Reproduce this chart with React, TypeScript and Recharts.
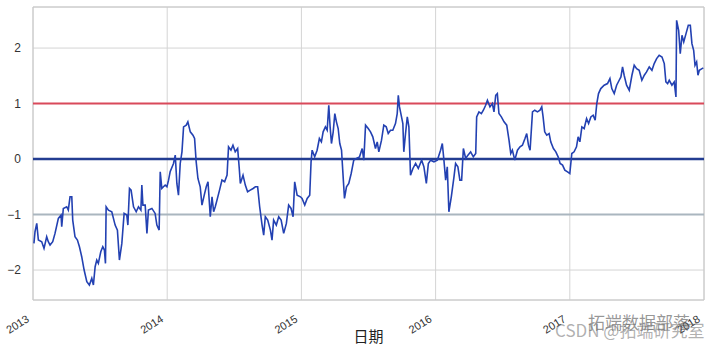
import { CartesianGrid, Label, Line, LineChart, ReferenceArea, ReferenceLine, XAxis, YAxis } from "recharts";

// years after 2013 (fractional)
const BASE_YEAR = 2013;
const T = [
  0.007, 0.015, 0.028, 0.04, 0.065, 0.082, 0.102, 0.114, 0.127, 0.147, 0.164, 0.189, 0.209, 0.214, 0.226, 0.251, 0.263,
  0.276, 0.289, 0.296, 0.313, 0.331, 0.346, 0.363, 0.381, 0.401, 0.42, 0.438, 0.45, 0.463, 0.475, 0.487, 0.505, 0.52,
  0.532, 0.54, 0.545, 0.562, 0.587, 0.612, 0.629, 0.644, 0.662, 0.679, 0.699, 0.707, 0.719, 0.731, 0.749, 0.769, 0.786,
  0.804, 0.811, 0.819, 0.836, 0.849, 0.86, 0.886, 0.91, 0.923, 0.94, 0.948, 0.96, 0.972, 0.985, 0.998, 1.01, 1.022,
  1.047, 1.06, 1.072, 1.084, 1.097, 1.11, 1.122, 1.142, 1.154, 1.172, 1.192, 1.204, 1.216, 1.229, 1.246, 1.259, 1.276,
  1.291, 1.304, 1.321, 1.334, 1.346, 1.358, 1.371, 1.39, 1.408, 1.428, 1.446, 1.457, 1.475, 1.49, 1.507, 1.525, 1.537,
  1.545, 1.565, 1.582, 1.599, 1.619, 1.64, 1.657, 1.674, 1.689, 1.707, 1.719, 1.731, 1.749, 1.769, 1.781, 1.793, 1.813,
  1.831, 1.849, 1.868, 1.888, 1.905, 1.923, 1.938, 1.95, 1.968, 1.993, 2.005, 2.025, 2.043, 2.062, 2.072, 2.08, 2.099,
  2.117, 2.134, 2.149, 2.162, 2.179, 2.192, 2.204, 2.214, 2.224, 2.237, 2.249, 2.261, 2.274, 2.286, 2.299, 2.308, 2.321,
  2.336, 2.353, 2.371, 2.39, 2.41, 2.433, 2.453, 2.465, 2.478, 2.498, 2.515, 2.532, 2.552, 2.565, 2.577, 2.597, 2.614,
  2.632, 2.647, 2.664, 2.681, 2.701, 2.714, 2.722, 2.731, 2.746, 2.756, 2.763, 2.776, 2.789, 2.801, 2.813, 2.831, 2.851,
  2.871, 2.896, 2.913, 2.931, 2.946, 2.963, 2.988, 3.013, 3.037, 3.05, 3.062, 3.075, 3.087, 3.099, 3.117, 3.137, 3.149,
  3.166, 3.181, 3.194, 3.207, 3.224, 3.241, 3.261, 3.281, 3.299, 3.306, 3.323, 3.341, 3.356, 3.373, 3.386, 3.405, 3.423,
  3.435, 3.448, 3.46, 3.472, 3.49, 3.51, 3.53, 3.547, 3.56, 3.572, 3.59, 3.61, 3.629, 3.647, 3.666, 3.679, 3.692, 3.704,
  3.722, 3.739, 3.759, 3.778, 3.791, 3.801, 3.813, 3.828, 3.846, 3.858, 3.878, 3.896, 3.913, 3.928, 3.946, 3.963, 3.983,
  4.0, 4.015, 4.032, 4.05, 4.062, 4.075, 4.09, 4.107, 4.125, 4.14, 4.157, 4.174, 4.189, 4.201, 4.214, 4.231, 4.256,
  4.281, 4.299, 4.313, 4.331, 4.349, 4.368, 4.381, 4.393, 4.405, 4.423, 4.443, 4.463, 4.48, 4.498, 4.517, 4.537, 4.555,
  4.572, 4.592, 4.612, 4.629, 4.647, 4.666, 4.687, 4.704, 4.716, 4.729, 4.741, 4.761, 4.778, 4.791, 4.796, 4.811, 4.823,
  4.836, 4.849, 4.866, 4.883, 4.898, 4.91, 4.923, 4.933, 4.945, 4.955, 4.965, 4.985, 4.995,
];
const SPREAD = [
  -1.52, -1.31, -1.16, -1.46, -1.49, -1.61, -1.4, -1.49, -1.55, -1.49, -1.34, -1.07, -1.01, -1.22, -0.89, -0.86, -0.92,
  -0.68, -0.68, -1.1, -1.4, -1.46, -1.58, -1.76, -2.0, -2.21, -2.27, -2.15, -2.27, -1.94, -1.82, -1.88, -1.67, -1.58,
  -1.64, -1.88, -0.86, -0.92, -0.95, -1.19, -1.28, -1.82, -1.52, -0.98, -1.01, -1.19, -0.53, -0.56, -0.86, -0.95, -0.86,
  -0.92, -0.47, -0.83, -0.83, -1.34, -0.92, -0.89, -0.98, -1.19, -1.28, -0.23, -0.53, -0.5, -0.47, -0.5, -0.38, -0.23,
  -0.08, 0.07, -0.44, -0.65, -0.08, 0.13, 0.58, 0.61, 0.67, 0.49, 0.43, 0.37, -0.05, -0.35, -0.5, -0.83, -0.65,
  -0.5, -0.41, -1.04, -0.68, -0.95, -0.86, -0.74, -0.56, -0.38, -0.41, -0.29, 0.22, 0.16, 0.25, 0.13, 0.19, -0.17,
  -0.44, -0.29, -0.47, -0.59, -0.56, -0.53, -0.5, -0.5, -0.86, -1.19, -1.37, -1.04, -1.1, -1.28, -1.46, -1.1, -1.19,
  -1.04, -1.1, -1.34, -1.16, -0.83, -0.89, -1.04, -0.41, -0.65, -0.68, -0.71, -0.83, -0.71, -0.65, -0.05, 0.16, 0.04,
  0.16, 0.37, 0.31, 0.49, 0.58, 0.52, 0.97, 0.58, 0.28, 0.49, 0.82, 0.67, 0.55, 0.28, 0.16, -0.2, -0.71,
  -0.5, -0.44, -0.26, -0.02, 0.01, 0.04, 0.19, -0.02, 0.61, 0.55, 0.49, 0.4, 0.19, 0.31, 0.13, 0.34, 0.61,
  0.58, 0.46, 0.52, 0.52, 0.64, 0.82, 1.15, 0.94, 0.76, 0.64, 0.13, 0.46, 0.76, 0.58, -0.29, -0.17, -0.08,
  -0.17, -0.02, -0.14, -0.44, -0.08, -0.02, -0.05, -0.02, 0.16, 0.28, -0.02, -0.38, -0.14, -0.95, -0.68, -0.32, -0.08,
  -0.14, -0.38, -0.38, 0.19, 0.01, 0.07, 0.13, 0.04, 0.1, 0.76, 0.85, 0.82, 0.88, 0.97, 1.06, 0.94, 1.0,
  0.85, 1.15, 1.18, 0.82, 0.76, 0.67, 0.61, 0.34, 0.1, 0.16, -0.02, 0.16, 0.22, 0.25, 0.37, 0.46, 0.25, 0.16,
  0.85, 0.88, 0.85, 0.88, 0.94, 0.76, 0.49, 0.43, 0.46, 0.31, 0.19, 0.13, 0.04, -0.08, -0.11, -0.2, -0.23,
  -0.26, 0.1, 0.13, 0.22, 0.4, 0.31, 0.58, 0.55, 0.73, 0.64, 0.76, 0.79, 0.7, 1.0, 1.18, 1.27, 1.33,
  1.36, 1.45, 1.27, 1.18, 1.33, 1.42, 1.48, 1.66, 1.51, 1.33, 1.24, 1.51, 1.69, 1.63, 1.6, 1.42, 1.51,
  1.57, 1.66, 1.6, 1.72, 1.81, 1.87, 1.84, 1.72, 1.39, 1.36, 1.42, 1.33, 1.39, 1.12, 2.5, 2.32, 1.9,
  2.23, 2.11, 2.26, 2.41, 2.41, 2.08, 1.96, 1.69, 1.75, 1.51, 1.6, 1.63, 1.64,
];
const X_TICKS = [0, 1, 2, 3, 4, 5];
const Y_TICKS = [-2, -1, 0, 1, 2];
const Y_DOMAIN = [-2.54, 2.74];

const data = T.map((t, i) => ({ t, spread: SPREAD[i] }));

const FONT = '"Liberation Sans", Arial, sans-serif';

function YearTick({ x, y, payload }: any) {
  const ax = x - 3;
  const ay = y + 13;
  return (
    <text x={ax} y={ay} textAnchor="end" fontSize={11} fill="#333" fontFamily={FONT} transform={`rotate(-32, ${ax}, ${ay})`}>
      {BASE_YEAR + payload.value}
    </text>
  );
}

export default function App() {
  return (
    <div style={{ position: "absolute", left: 0, top: 0, width: 710, height: 352, background: "#fff" }}>
      <LineChart width={710} height={352} data={data} margin={{ top: 7, right: 6, bottom: 0, left: 8 }}>
        <CartesianGrid stroke="#d4d4d4" strokeWidth={1} />
        <XAxis
          dataKey="t"
          type="number"
          domain={[0, 5]}
          ticks={X_TICKS}
          height={52}
          axisLine={false}
          tickLine={false}
          tick={<YearTick />}
          interval={0}
        >
          <Label value="日期" position="insideBottom" offset={10} fontSize={15} fill="#222" fontFamily='"Noto Sans CJK SC", sans-serif' />
        </XAxis>
        <YAxis
          type="number"
          domain={Y_DOMAIN}
          ticks={Y_TICKS}
          width={25}
          axisLine={false}
          tickLine={false}
          tick={{ fontSize: 12, fill: "#333", fontFamily: FONT }}
          tickFormatter={(v: number) => (v < 0 ? `\u2212${Math.abs(v)}` : `${v}`)}
          tickMargin={6}
        />
        <ReferenceArea x1={0} x2={5} y1={Y_DOMAIN[0]} y2={Y_DOMAIN[1]} fill="none" stroke="#c8c8c8" strokeWidth={1} />
        <ReferenceLine y={-1} stroke="#aab6bf" strokeWidth={2} />
        <ReferenceLine y={1} stroke="#d9495a" strokeWidth={2} />
        <ReferenceLine y={0} stroke="#233d91" strokeWidth={2.5} />
        <Line dataKey="spread" stroke="#2341b2" strokeWidth={1.6} dot={false} isAnimationActive={false} />
      </LineChart>
      <div style={{ position: "absolute", left: 588, top: 309, fontSize: 17, color: "rgba(80,80,80,0.6)", fontFamily: '"Noto Sans CJK SC", sans-serif', whiteSpace: "nowrap" }}>
        拓端数据部落
      </div>
      <div style={{ position: "absolute", left: 555, top: 317, fontSize: 17, color: "rgba(110,110,110,0.55)", fontFamily: '"Noto Sans CJK SC", sans-serif', whiteSpace: "nowrap" }}>
        CSDN @拓端研究室
      </div>
    </div>
  );
}
